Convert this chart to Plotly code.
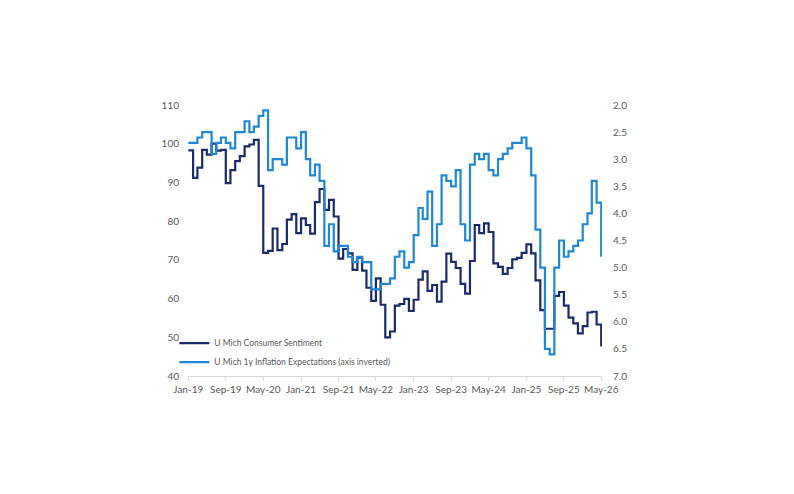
import pandas as pd
import plotly.graph_objects as go

# Monthly step positions (each reading plotted at the start of the following month)
dates = pd.date_range("2019-01-01", "2026-05-01", freq="MS")

sentiment = [
    98.3,
    91.2, 93.8, 98.4, 97.2, 100.0, 98.2, 98.4, 89.8, 93.2, 95.5, 96.8, 99.3,
    99.8, 101.0, 89.1, 71.8, 72.3, 78.1, 72.5, 74.1, 80.4, 81.8, 76.9, 80.7,
    79.0, 76.8, 84.9, 88.3, 82.9, 85.5, 81.2, 70.3, 72.8, 71.7, 67.4, 70.6,
    67.2, 62.8, 59.4, 65.2, 58.4, 50.0, 51.5, 58.2, 58.6, 59.9, 56.8, 59.7,
    64.9, 67.0, 62.0, 63.5, 59.2, 64.4, 71.6, 69.5, 67.9, 63.8, 61.3, 69.7,
    79.0, 76.9, 79.4, 77.2, 69.1, 68.2, 66.4, 67.9, 70.1, 70.5, 71.8, 74.0,
    71.7, 64.7, 57.0, 52.2, 52.2, 60.7, 61.7, 58.2, 55.1, 53.6, 51.0, 52.9,
    56.4, 56.6, 53.3, 47.6,
]

inflation_1y = [
    2.7,
    2.7, 2.6, 2.5, 2.5, 2.9, 2.7, 2.6, 2.7, 2.8, 2.5, 2.5, 2.3,
    2.5, 2.4, 2.2, 2.1, 3.2, 3.0, 3.0, 3.1, 2.6, 2.6, 2.8, 2.5,
    3.0, 3.3, 3.1, 3.4, 4.6, 4.2, 4.7, 4.6, 4.6, 4.8, 4.9, 4.8,
    4.9, 4.9, 5.4, 5.4, 5.3, 5.3, 5.2, 4.8, 4.7, 5.0, 4.9, 4.4,
    3.9, 4.1, 3.6, 4.6, 4.2, 3.3, 3.4, 3.5, 3.2, 4.2, 4.5, 3.1,
    2.9, 3.0, 2.9, 3.2, 3.3, 3.0, 2.9, 2.8, 2.7, 2.7, 2.6, 2.8,
    3.3, 4.3, 5.0, 6.5, 6.6, 5.0, 4.5, 4.8, 4.7, 4.6, 4.5, 4.2,
    4.0, 3.4, 3.8, 4.8,
]

tick_labels = ["Jan-19", "Sep-19", "May-20", "Jan-21", "Sep-21", "May-22",
               "Jan-23", "Sep-23", "May-24", "Jan-25", "Sep-25", "May-26"]
tick_dates = [pd.to_datetime(t, format="%b-%y") for t in tick_labels]

left_ticks = [40, 50, 60, 70, 80, 90, 100, 110]
right_ticks = [2.0, 2.5, 3.0, 3.5, 4.0, 4.5, 5.0, 5.5, 6.0, 6.5, 7.0]

DARK = "#1b2a6b"
LIGHT = "#1f87d6"
GREY = "#595959"
FONT = "Lato"

fig = go.Figure()
fig.add_trace(go.Scatter(
    x=dates, y=sentiment, name="U Mich Consumer Sentiment",
    mode="lines", line=dict(color=DARK, width=2.2, shape="hv"), yaxis="y"))
fig.add_trace(go.Scatter(
    x=dates, y=inflation_1y, name="U Mich 1y Inflation Expectations (axis inverted)",
    mode="lines", line=dict(color=LIGHT, width=2.2, shape="hv"), yaxis="y2"))

x_start = dates[0] - pd.Timedelta(days=2)
x_end = dates[-1] + pd.Timedelta(days=5)

fig.update_layout(
    width=794, height=494,
    margin=dict(l=188, r=192, t=105, b=118),
    paper_bgcolor="white", plot_bgcolor="white",
    font=dict(family=FONT, size=10, color=GREY),
    showlegend=True,
    legend=dict(x=-0.033, y=0.175, xanchor="left", yanchor="top",
                bgcolor="rgba(0,0,0,0)", font=dict(size=8.5, color=GREY),
                itemwidth=30, tracegroupgap=4),
    xaxis=dict(
        type="date", range=[x_start, x_end],
        tickvals=tick_dates, ticktext=tick_labels,
        showgrid=False, zeroline=False,
        showline=True, linecolor="#d9d9d9", linewidth=1,
        ticks="outside", ticklen=4, tickcolor="#d9d9d9",
        tickfont=dict(size=10, color=GREY)),
    yaxis=dict(
        range=[40, 110], tickvals=left_ticks,
        showgrid=False, zeroline=False, showline=False,
        ticks="", ticklabelstandoff=8,
        tickfont=dict(size=10, color=GREY)),
    yaxis2=dict(
        overlaying="y", side="right", range=[7.0, 2.0],
        tickvals=right_ticks, ticktext=[f"{v:.1f}" for v in right_ticks],
        showgrid=False, zeroline=False, showline=False,
        ticks="", ticklabelstandoff=10,
        tickfont=dict(size=10, color=GREY)),
)

fig.write_html("out.html")
